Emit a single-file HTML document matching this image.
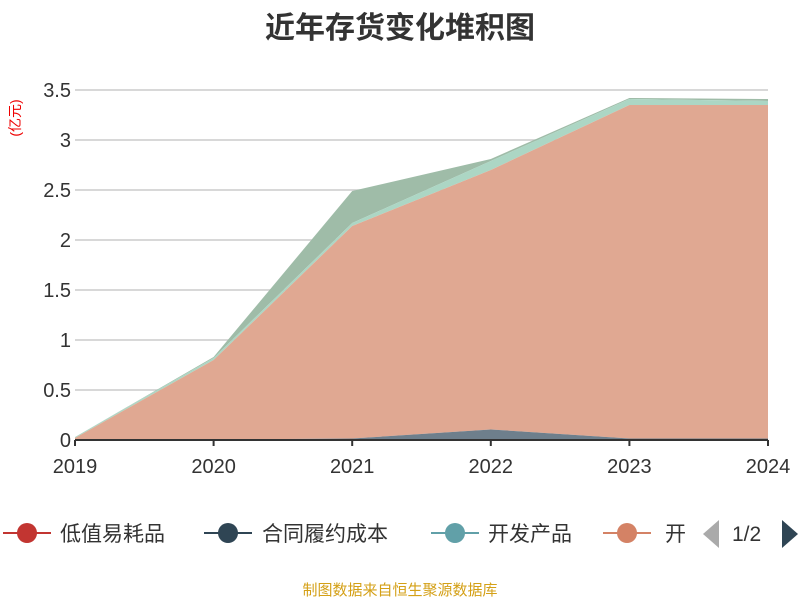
<!DOCTYPE html>
<html><head><meta charset="utf-8"><style>
body{margin:0;background:#fff;font-family:"Liberation Sans","Noto Sans CJK SC",sans-serif}
</style></head><body>
<svg width="800" height="600" id="c" font-family="Liberation Sans, Noto Sans CJK SC, sans-serif">
<text x="400" y="38" text-anchor="middle" font-size="30" font-weight="bold" fill="#333">近年存货变化堆积图</text>
<text x="20" y="118" transform="rotate(-90 20 118)" text-anchor="middle" font-size="14" fill="#e00">(亿元)</text>
<g id="grid"></g><g id="areas"></g><g id="axes"></g>
<g font-size="21" fill="#333">
<g><line x1="3" y1="533" x2="51" y2="533" stroke="#c23531" stroke-width="2"/><circle cx="27" cy="533" r="10" fill="#c23531"/><text x="60" y="541">低值易耗品</text></g>
<g><line x1="204" y1="533" x2="252" y2="533" stroke="#2f4554" stroke-width="2"/><circle cx="228" cy="533" r="10" fill="#2f4554"/><text x="262" y="541">合同履约成本</text></g>
<g><line x1="431" y1="533" x2="479" y2="533" stroke="#61a0a8" stroke-width="2"/><circle cx="455" cy="533" r="10" fill="#61a0a8"/><text x="488" y="541">开发产品</text></g>
<g><line x1="603" y1="533" x2="651" y2="533" stroke="#d48265" stroke-width="2"/><circle cx="627" cy="533" r="10" fill="#d48265"/><text x="665" y="541">开</text></g>
<polygon points="719,520 703,534 719,548" fill="#aaa"/>
<text x="732" y="541">1/2</text>
<polygon points="782,520 798,534 782,548" fill="#2f4554"/>
</g>
<text x="400" y="595" text-anchor="middle" font-size="15" fill="#d4a017">制图数据来自恒生聚源数据库</text>
</svg>
<script>
const years=["2019","2020","2021","2022","2023","2024"];
const lowValue=[0.005,0.005,0.005,0.005,0.005,0.005];
const contractCost=[0,0,0.01,0.1,0.01,0.01];
const devCost=[0.015,0.795,2.125,2.595,3.335,3.335];
const devProducts=[0.01,0.02,0.03,0.09,0.06,0.04];
const otherInv=[0,0.01,0.32,0.02,0.01,0.02];
const yTicks=[0,0.5,1,1.5,2,2.5,3,3.5];
const NS="http://www.w3.org/2000/svg";
const x0=75,x1=768,yb=440,yt=90,ymax=3.5;
const X=i=>x0+i*(x1-x0)/(years.length-1);
const Y=v=>yb-v/ymax*(yb-yt);
function mk(t,a,p){const e=document.createElementNS(NS,t);for(const k in a)e.setAttribute(k,a[k]);p.appendChild(e);return e;}
const grid=document.getElementById('grid'),axes=document.getElementById('axes'),areas=document.getElementById('areas');
yTicks.forEach(v=>{
 const l=mk('line',{x1:x0,x2:x1,y1:Y(v),y2:Y(v),stroke:'#ccc','stroke-width':1.5},grid);
 
 
 const t=mk('text',{x:x0-4,y:Y(v)+7,'text-anchor':'end','font-size':20,fill:'#333'},axes);
 t.textContent=String(v);
 
 
});
const series=[
 {n:'area-low-value',d:lowValue,c:'#d88f86'},
 {n:'area-contract-cost',d:contractCost,c:'#6e7f8c'},
 {n:'area-development-cost',d:devCost,c:'#e0a892'},
 {n:'area-developed-products',d:devProducts,c:'#acd6c4'},
 {n:'area-other-inventory',d:otherInv,c:'#9fbca8'}];
let base=years.map(()=>0);
const polys=[];
series.forEach(s=>{
 const top=base.map((b,i)=>b+s.d[i]);
 const pts=top.map((v,i)=>X(i)+','+Y(v)).concat(base.map((v,i)=>X(i)+','+Y(v)).reverse());
 polys.push({s,pts:pts.join(' ')});
 base=top;
});
polys.reverse().forEach(p=>{
 const e=mk('polygon',{points:p.pts,fill:p.s.c},areas);
 
 
});
// redraw lower thin layers above big ones to remain visible
const ax=mk('line',{x1:x0,x2:x1,y1:yb,y2:yb,stroke:'#333','stroke-width':2},axes);


years.forEach((yr,i)=>{
 const tk=mk('line',{x1:X(i),x2:X(i),y1:yb,y2:yb+6,stroke:'#333','stroke-width':2},axes);
 
 
 const t=mk('text',{x:X(i),y:yb+33,'text-anchor':'middle','font-size':20,fill:'#333'},axes);
 t.textContent=yr;
 
 
});
</script>
</body></html>
